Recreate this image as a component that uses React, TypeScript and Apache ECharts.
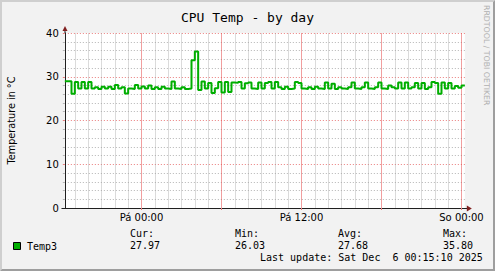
import React, { useEffect, useRef } from 'react';
import * as echarts from 'echarts';

const chartTitle = 'CPU Temp - by day';
const yAxisTitle = 'Temperature in °C';
const seriesName = 'Temp3';
// hours relative to "Pá 00:00"
const startHour = -5.75;
const endHour = 24.25;
const stepHours = 0.25;
const temps = [
  29.0, 29.0, 26.1, 28.8, 27.3, 28.8, 27.3, 28.8, 27.3, 27.6,
  27.2, 27.7, 27.3, 27.7, 27.2, 28.1, 27.3, 27.6, 26.2, 27.3,
  27.2, 28.1, 27.3, 27.8, 27.3, 28.0, 27.2, 27.6, 27.2, 27.7,
  27.3, 27.2, 28.9, 27.3, 27.2, 27.6, 27.2, 27.3, 33.8, 35.8,
  27.0, 28.9, 27.3, 28.6, 26.3, 27.4, 28.8, 26.4, 28.8, 26.5,
  28.7, 28.6, 28.8, 27.3, 28.5, 28.7, 27.3, 27.2, 28.7, 27.3,
  28.6, 28.8, 27.3, 28.8, 27.6, 27.2, 27.7, 27.2, 27.3, 28.8,
  28.6, 27.3, 27.2, 27.6, 27.2, 27.7, 27.3, 27.2, 28.7, 27.3,
  28.4, 27.2, 27.6, 27.3, 27.2, 27.6, 28.7, 27.3, 27.2, 27.6,
  28.7, 27.3, 27.2, 27.6, 28.7, 27.3, 27.2, 28.0, 27.6, 27.3,
  28.7, 27.3, 28.7, 27.3, 27.6, 28.6, 27.3, 28.6, 27.2, 27.6,
  28.8, 28.6, 26.1, 28.7, 27.3, 28.6, 27.3, 27.9, 27.5, 28.0,
];
const majorHours = [0, 6, 12, 18, 24];
const minorHours = [-5, -4, -3, -2, -1, 1, 2, 3, 4, 5, 7, 8, 9, 10, 11, 13, 14, 15, 16, 17, 19, 20, 21, 22, 23];
const labelHours = [0, 12, 24];
const xLabels = ['Pá 00:00', 'Pá 12:00', 'So 00:00'];
const yMin = 0;
const yMax = 40;
const yMajor = 10;
const statNames = ['Cur:', 'Min:', 'Avg:', 'Max:'];
const statValues = ['27.97', '26.03', '27.68', '35.80'];
const lastUpdate = 'Last update: Sat Dec  6 00:15:10 2025';
const watermark = 'RRDTOOL / TOBI OETIKER';

const W = 495;
const H = 271;
const GRID = { left: 64.83, top: 33, width: 400, height: 175 };
const STAT_X = [130, 235, 338, 443];
const LINE_COLOR = '#00AE00';
const MGRID = '#EA7C7C';
const GRIDC = '#B4B4B4';
const AXIS = '#1F1F1F';
const ARROW = '#801F1F';
const SANS = 'DejaVu Sans';
const MONO = 'DejaVu Sans Mono';

export default function App() {
  const ref = useRef<HTMLDivElement>(null);
  useEffect(() => {
    if (!ref.current) return;
    const chart = echarts.init(ref.current, null, { renderer: 'svg', width: W, height: H });
    const data: number[][] = temps.map((v, i) => [startHour + i * stepHours, v]);
    data.push([endHour, temps[temps.length - 1]]);
    const bottom = GRID.top + GRID.height;
    const right = GRID.left + GRID.width;
    const ax = 65.5;
    const graphics: any[] = [
      // frame shades
      { type: 'polygon', shape: { points: [[0, 0], [W, 0], [W - 2, 2], [2, 2], [2, H - 2], [0, H]] }, style: { fill: '#CFCFCF' }, silent: true },
      { type: 'polygon', shape: { points: [[W, 0], [W, H], [0, H], [2, H - 2], [W - 2, H - 2], [W - 2, 2]] }, style: { fill: '#9E9E9E' }, silent: true },
      // axis extensions & arrows
      { type: 'line', shape: { x1: ax - 0.5, y1: GRID.top, x2: ax - 0.5, y2: GRID.top - 3 }, style: { stroke: AXIS, lineWidth: 1 }, z: 10 },
      { type: 'line', shape: { x1: right, y1: bottom + 0.5, x2: right + 3, y2: bottom + 0.5 }, style: { stroke: AXIS, lineWidth: 1 }, z: 10 },
      { type: 'line', shape: { x1: ax - 4, y1: bottom + 0.5, x2: ax, y2: bottom + 0.5 }, style: { stroke: AXIS, lineWidth: 1 }, z: 10 },
      { type: 'polygon', shape: { points: [[ax - 3, GRID.top - 2], [ax + 2, GRID.top - 2], [ax - 0.5, GRID.top - 7]] }, style: { fill: ARROW }, z: 10 },
      { type: 'polygon', shape: { points: [[right + 2, bottom - 2.5], [right + 2, bottom + 3.5], [right + 7, bottom + 0.5]] }, style: { fill: ARROW }, z: 10 },
      // y axis title
      { type: 'text', x: 11, y: GRID.top + GRID.height / 2, rotation: Math.PI / 2, style: { text: yAxisTitle, x: 0, y: 0, textAlign: 'center', textVerticalAlign: 'middle', fontFamily: SANS, fontSize: 9.7, fill: '#000' } },
      // watermark
      { type: 'text', x: 486, y: 5, rotation: -Math.PI / 2, style: { text: watermark, x: 0, y: 0, textAlign: 'left', textVerticalAlign: 'middle', fontFamily: SANS, fontSize: 7.8, fill: '#B0B0B0' } },
      // legend
      { type: 'rect', shape: { x: 13.5, y: 242.5, width: 7, height: 7 }, style: { fill: LINE_COLOR, stroke: '#000', lineWidth: 1 } },
      { type: 'text', x: 27, y: 246, style: { text: seriesName, textAlign: 'left', textVerticalAlign: 'middle', fontFamily: MONO, fontSize: 10, fill: '#000' } },
      { type: 'text', x: 260, y: 257.7, style: { text: lastUpdate, textAlign: 'left', textVerticalAlign: 'middle', fontFamily: MONO, fontSize: 10, fill: '#000' } },
    ];
    statNames.forEach((n, i) => {
      graphics.push({ type: 'text', x: STAT_X[i], y: 233.3, style: { text: n, textAlign: 'left', textVerticalAlign: 'middle', fontFamily: MONO, fontSize: 10, fill: '#000' } });
      graphics.push({ type: 'text', x: STAT_X[i], y: 245.7, style: { text: statValues[i], textAlign: 'left', textVerticalAlign: 'middle', fontFamily: MONO, fontSize: 10, fill: '#000' } });
    });

    const gridLines = [
      ...minorHours.map((h) => ({ xAxis: h, lineStyle: { color: 'rgba(160,160,160,0.38)', width: 1, type: 'solid' } })),
      ...majorHours.map((h) => ({ xAxis: h, lineStyle: { color: 'rgba(230,80,80,0.55)', width: 1, type: 'solid' } })),
    ];

    chart.setOption({
      animation: false,
      backgroundColor: '#F2F2F2',
      textStyle: { fontFamily: SANS },
      title: {
        text: chartTitle,
        left: 'center',
        top: 6,
        textStyle: { fontFamily: MONO, fontSize: 13, fontWeight: 'normal', color: '#000' },
      },
      grid: { ...GRID, show: true, backgroundColor: '#FFFFFF', borderWidth: 0 },
      xAxis: {
        type: 'value',
        min: startHour,
        max: endHour,
        axisLine: { show: true, onZero: false, lineStyle: { color: AXIS, width: 1 } },
        axisTick: { show: true, customValues: majorHours, length: 2, lineStyle: { color: MGRID } },
        axisLabel: {
          customValues: labelHours,
          formatter: (v: number) => xLabels[labelHours.indexOf(v)] ?? '',
          fontFamily: SANS,
          fontSize: 10,
          color: '#000',
          margin: 4,
        },
        splitLine: { show: false },
      },
      yAxis: {
        type: 'value',
        min: yMin,
        max: yMax,
        interval: yMajor,
        axisLine: { show: true, onZero: false, lineStyle: { color: AXIS, width: 1 } },
        axisTick: { show: true, length: 2, lineStyle: { color: MGRID } },
        minorTick: { show: true, splitNumber: 5, length: 2, lineStyle: { color: GRIDC } },
        axisLabel: { fontFamily: SANS, fontSize: 10, color: '#000', margin: 6 },
        splitLine: { show: true, lineStyle: { color: MGRID, width: 1, type: [1, 2] } },
        minorSplitLine: { show: true, lineStyle: { color: GRIDC, width: 1, type: [1, 2] } },
      },
      series: [
        {
          name: seriesName,
          type: 'line',
          step: 'end',
          data,
          showSymbol: false,
          symbol: 'none',
          z: 5,
          lineStyle: { color: LINE_COLOR, width: 2 },
          markLine: {
            z: 1,
            silent: true,
            symbol: ['none', 'none'],
            label: { show: false },
            emphasis: { disabled: true },
            data: gridLines,
          },
        },
      ],
      graphic: graphics,
    });
    return () => chart.dispose();
  }, []);
  return <div ref={ref} style={{ position: 'fixed', left: 0, top: 0, width: W, height: H }} />;
}
